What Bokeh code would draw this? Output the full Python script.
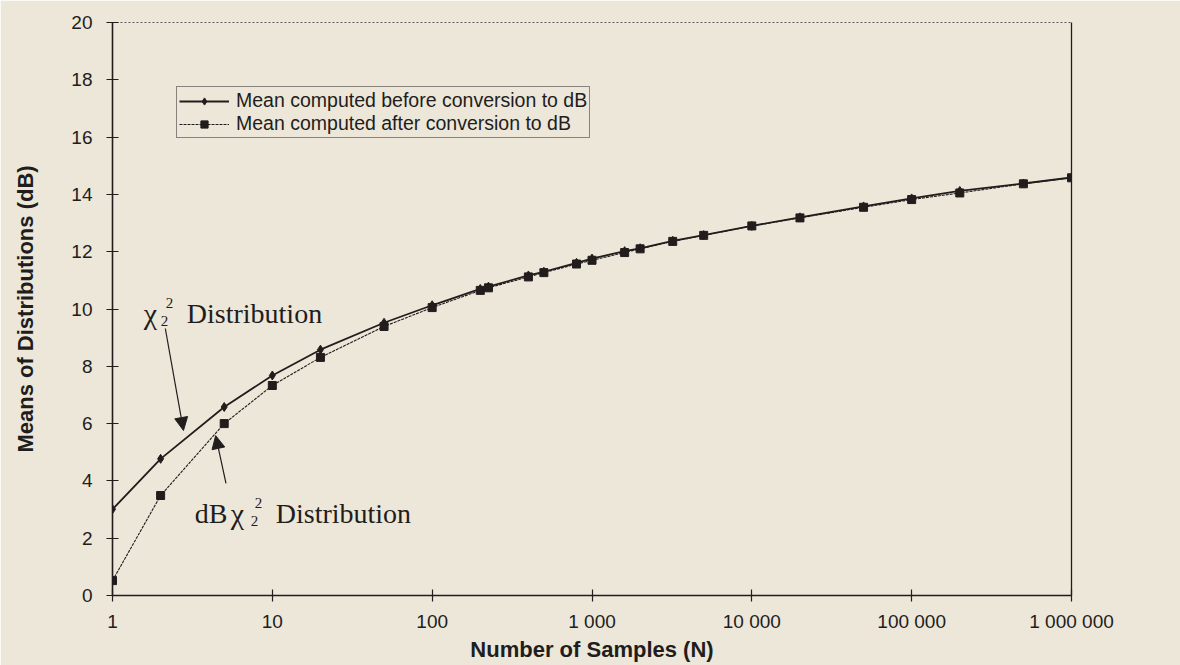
from bokeh.plotting import figure
from bokeh.models import (Legend, LegendItem, FixedTicker, CustomJSTickFormatter,
                          LinearAxis, LogAxis, Label, Arrow, NormalHead, Range1d)
from bokeh.embed import file_html
from bokeh.resources import INLINE

# Number of samples N and the mean of the distributions (dB)
n_samples = [1, 2, 5, 10, 20, 50, 100, 200, 225, 400, 500, 800, 1000, 1600,
             2000, 3200, 5000, 10000, 20000, 50000, 100000, 200000, 500000,
             1000000]
mean_before_db = [3.01, 4.77, 6.58, 7.68, 8.58, 9.52, 10.13, 10.70, 10.78,
                  11.17, 11.30, 11.61, 11.76, 12.02, 12.12, 12.38, 12.58,
                  12.90, 13.20, 13.58, 13.86, 14.12, 14.38, 14.59]
mean_after_db = [0.52, 3.49, 6.00, 7.33, 8.31, 9.39, 10.05, 10.65, 10.74,
                 11.12, 11.27, 11.57, 11.70, 11.97, 12.10, 12.36, 12.57,
                 12.90, 13.18, 13.55, 13.82, 14.05, 14.37, 14.58]

x_ticks = [1, 10, 100, 1000, 10000, 100000, 1000000]
y_ticks = [0, 2, 4, 6, 8, 10, 12, 14, 16, 18, 20]

label_before = "Mean computed before conversion to dB"
label_after = "Mean computed after conversion to dB"
x_title = "Number of Samples (N)"
y_title = "Means of Distributions (dB)"

INK = "#221d1d"
PAPER = "#ece7d8"
SANS = "Liberation Sans"
SERIF = "Liberation Serif"

p = figure(width=1180, height=665, x_axis_type="log",
           x_range=Range1d(1, 1000000), y_range=Range1d(0, 20),
           output_backend="svg", toolbar_location=None,
           min_border_left=112, min_border_right=109,
           min_border_top=22, min_border_bottom=70)
p.background_fill_color = PAPER
p.border_fill_color = PAPER
p.outline_line_color = None
p.grid.visible = False

# axes
xa = p.xaxis[0]
xa.ticker = FixedTicker(ticks=x_ticks, minor_ticks=[])
xa.formatter = CustomJSTickFormatter(code="""
    return Math.round(tick).toString().replace(/\\B(?=(\\d{3})+(?!\\d))/g, " ");
""")
ya = p.yaxis[0]
ya.ticker = FixedTicker(ticks=y_ticks, minor_ticks=[])

for ax in (xa, ya):
    ax.axis_line_color = INK
    ax.axis_line_width = 1.6
    ax.major_tick_line_color = INK
    ax.major_tick_line_width = 1.2
    ax.major_tick_in = 6
    ax.major_tick_out = 6
    ax.minor_tick_line_color = None
    ax.major_label_text_font = SANS
    ax.major_label_text_font_size = "19px"
    ax.major_label_text_color = INK
    ax.axis_label_text_font = SANS
    ax.axis_label_text_font_style = "bold"
    ax.axis_label_text_color = INK

xa.axis_label = x_title
xa.axis_label_text_font_size = "22px"
xa.major_label_standoff = 9
xa.axis_label_standoff = 2
ya.axis_label = y_title
ya.axis_label_text_font_size = "22px"
ya.major_label_standoff = 14
ya.axis_label_standoff = 30

# frame on the top and right
right_ax = LinearAxis(ticker=FixedTicker(ticks=[]), axis_line_color=INK,
                      axis_line_width=1.3, major_tick_line_color=None,
                      minor_tick_line_color=None, major_label_text_font_size="0px")
top_ax = LogAxis(ticker=FixedTicker(ticks=[]), axis_line_color="#5c5656",
                 axis_line_width=1.2, axis_line_dash="2 2",
                 major_tick_line_color=None, minor_tick_line_color=None,
                 major_label_text_font_size="0px")
p.add_layout(right_ax, "right")
p.add_layout(top_ax, "above")

# series
l1 = p.line(n_samples, mean_before_db, line_color=INK, line_width=1.8)
s1 = p.scatter(n_samples, mean_before_db, marker="diamond", size=9,
               fill_color=INK, line_color=INK)
l2 = p.line(n_samples, mean_after_db, line_color=INK, line_width=1.1,
            line_dash="3 1")
s2 = p.scatter(n_samples, mean_after_db, marker="square", size=8,
               fill_color=INK, line_color=INK)

legend = Legend(items=[LegendItem(label=label_before, renderers=[l1, s1]),
                       LegendItem(label=label_after, renderers=[l2, s2])],
                location=(64, 457), orientation="vertical",
                border_line_color=INK, border_line_width=1.2,
                background_fill_color=PAPER, background_fill_alpha=1.0,
                label_text_font=SANS, label_text_font_size="19.5px",
                label_text_line_height=1.0,
                label_text_color=INK, padding=2, spacing=0, margin=0,
                glyph_width=50, glyph_height=18, label_height=18,
                label_standoff=7)
p.add_layout(legend)


def rich_label(x, y, parts):
    for text, dx, dy, size in parts:
        p.add_layout(Label(x=x, y=y, x_offset=dx, y_offset=dy, text=text,
                           text_font=SERIF, text_font_size=size,
                           text_color=INK, text_align="left",
                           text_baseline="alphabetic"))


# curve annotations
rich_label(1.57, 9.84, [("χ", 0, 0, "30px"), ("2", 17, -7, "15px"),
                        ("2", 22, 11, "15px"), ("Distribution", 43, 0, "28px")])
rich_label(3.27, 2.86, [("dB", 0, 0, "28px"), ("χ", 36, 0, "30px"),
                        ("2", 56, -7, "15px"), ("2", 60, 11, "15px"),
                        ("Distribution", 81, 0, "28px")])

head = dict(size=13, fill_color=INK, line_color=INK)
p.add_layout(Arrow(end=NormalHead(**head), x_start=2.14, y_start=9.32,
                   x_end=2.78, y_end=5.76, line_color=INK, line_width=1.2))
p.add_layout(Arrow(end=NormalHead(**head), x_start=5.13, y_start=3.91,
                   x_end=4.42, y_end=5.58, line_color=INK, line_width=1.2))

open("out.html", "w").write(file_html(p, INLINE))
